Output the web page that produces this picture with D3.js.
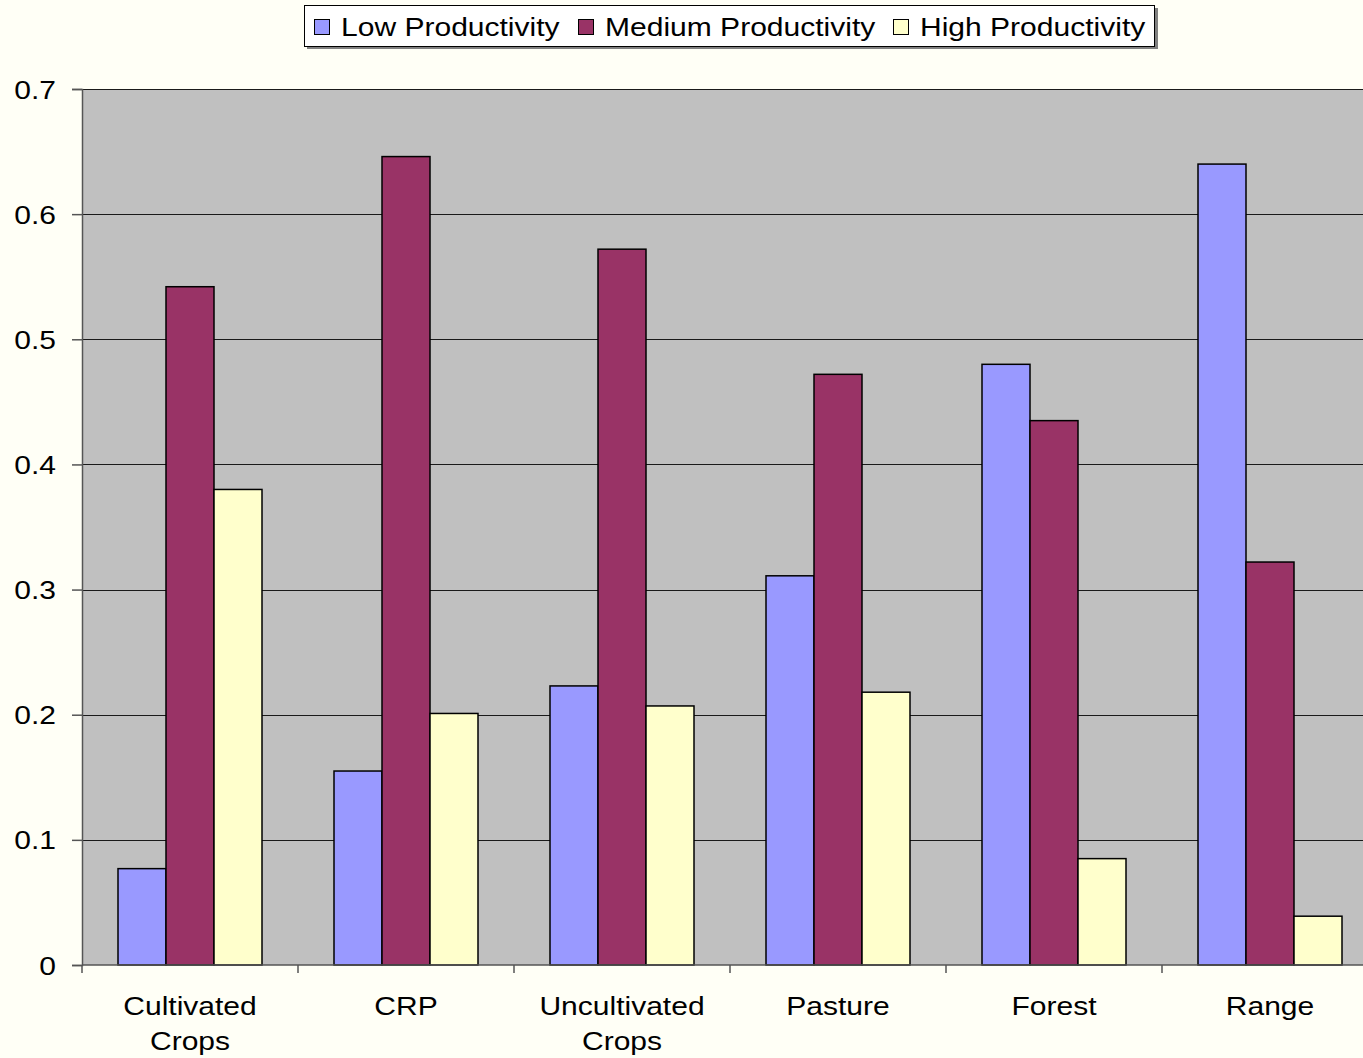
<!DOCTYPE html>
<html>
<head>
<meta charset="utf-8">
<script src="https://cdn.jsdelivr.net/npm/d3@7"></script>
<style>
	body { margin: 0; background: #fffff6; }
	svg { display: block; font-family: "Liberation Sans", Arial, sans-serif; }
</style>
</head>
<body>
<div id="chart"></div>
<script>
// chart values
const categories = ["Cultivated Crops", "CRP", "Uncultivated Crops", "Pasture", "Forest", "Range"];
const series = ["Low Productivity", "Medium Productivity", "High Productivity"];
const lowValues = [0.077, 0.155, 0.223, 0.311, 0.480, 0.640];
const mediumValues = [0.542, 0.646, 0.572, 0.472, 0.435, 0.322];
const highValues = [0.380, 0.201, 0.207, 0.218, 0.085, 0.039];
const yTicks = [0, 0.1, 0.2, 0.3, 0.4, 0.5, 0.6, 0.7];

const colors = ["#9999ff", "#993366", "#ffffcc"];
const values = [lowValues, mediumValues, highValues];

const width = 1363, height = 1058;
const margin = { top: 89, left: 82, bottom: 93 };
// the plot area runs past the right edge of the picture
const plotWidth = 216 * 6;
// the original text is stretched sideways
const stretch = 1.155;

const svg = d3.select("#chart")
	.append("svg")
	.attr("width", width)
	.attr("height", height);

const x = d3.scaleBand()
	.domain(categories)
	.range([margin.left, margin.left + plotWidth])
	.paddingInner(1 / 3)
	.paddingOuter(1 / 6);

const xSub = d3.scaleBand()
	.domain(series)
	.range([0, x.bandwidth()]);

const y = d3.scaleLinear()
	.domain([0, 0.7])
	.range([height - margin.bottom, margin.top]);

// grey plot background
svg.append("rect")
	.attr("x", margin.left)
	.attr("y", y(0.7))
	.attr("width", plotWidth)
	.attr("height", y(0) - y(0.7))
	.attr("fill", "#c0c0c0");

// horizontal gridlines
svg.append("g")
	.selectAll("line")
	.data(yTicks.slice(1))
	.join("line")
	.attr("x1", margin.left)
	.attr("x2", margin.left + plotWidth)
	.attr("y1", (d) => Math.round(y(d)) + 0.5)
	.attr("y2", (d) => Math.round(y(d)) + 0.5)
	.attr("stroke", "#1a1a1a")
	.attr("stroke-width", 1);

// bars, one group per category
const rows = categories.map((c, i) => ({
	category: c,
	bars: series.map((s, j) => ({ series: s, value: values[j][i], color: colors[j] })),
}));

svg.append("g")
	.selectAll("g")
	.data(rows)
	.join("g")
	.attr("transform", (d) => `translate(${x(d.category)},0)`)
	.selectAll("rect")
	.data((d) => d.bars)
	.join("rect")
	.attr("x", (d) => xSub(d.series))
	.attr("y", (d) => y(d.value))
	.attr("width", xSub.bandwidth())
	.attr("height", (d) => y(0) - y(d.value))
	.attr("fill", (d) => d.color)
	.attr("stroke", "#000")
	.attr("stroke-width", 1.5);

// y axis
const yAxis = svg.append("g")
	.attr("transform", `translate(${margin.left},0)`)
	.call(d3.axisLeft(y).tickValues(yTicks).tickFormat(d3.format("")).tickSize(10));
yAxis.select(".domain").attr("stroke", "#555").attr("stroke-width", 1.5);
yAxis.selectAll(".tick line").attr("stroke", "#555").attr("stroke-width", 1.5);
yAxis.selectAll(".tick text")
	.attr("font-size", 26)
	.attr("fill", "#000")
	.attr("text-anchor", "end")
	.attr("x", 0)
	.attr("dy", "0.35em")
	.attr("transform", `translate(-26,0) scale(${stretch},1)`);

// x axis: ticks between categories
const xAxis = svg.append("g").attr("transform", `translate(0,${y(0)})`);
xAxis.append("line")
	.attr("x1", margin.left)
	.attr("x2", margin.left + plotWidth)
	.attr("stroke", "#555")
	.attr("stroke-width", 1.5);
xAxis.selectAll(".sep")
	.data(d3.range(categories.length + 1))
	.join("line")
	.attr("class", "sep")
	.attr("x1", (i) => margin.left + i * 216)
	.attr("x2", (i) => margin.left + i * 216)
	.attr("y1", 0)
	.attr("y2", 8)
	.attr("stroke", "#555")
	.attr("stroke-width", 1.5);

// category labels, wrapped at the space for the long ones
xAxis.selectAll(".cat")
	.data(categories)
	.join("text")
	.attr("class", "cat")
	.attr("text-anchor", "middle")
	.attr("font-size", 26)
	.attr("fill", "#000")
	.attr("transform", (d) => `translate(${x(d) + x.bandwidth() / 2},0) scale(${stretch},1)`)
	.each(function (d) {
		const words = d.split(" ");
		const lines = words.length > 1 && d.length > 8 ? words : [d];
		d3.select(this)
			.selectAll("tspan")
			.data(lines)
			.join("tspan")
			.attr("x", 0)
			.attr("y", (w, i) => 50 + i * 35)
			.text((w) => w);
	});

// legend box with a drop shadow
const legend = svg.append("g");
legend.append("rect")
	.attr("x", 307).attr("y", 8)
	.attr("width", 851).attr("height", 41)
	.attr("fill", "#808080");
legend.append("rect")
	.attr("x", 304.5).attr("y", 5.5)
	.attr("width", 850).attr("height", 41)
	.attr("fill", "#fff")
	.attr("stroke", "#000")
	.attr("stroke-width", 1);

const legendX = [314, 578, 893];
const item = legend.selectAll(".item")
	.data(series)
	.join("g")
	.attr("class", "item")
	.attr("transform", (d, i) => `translate(${legendX[i]},27)`);
item.append("rect")
	.attr("x", 0.5).attr("y", -7.5)
	.attr("width", 15).attr("height", 15)
	.attr("fill", (d, i) => colors[i])
	.attr("stroke", "#000")
	.attr("stroke-width", 1);
item.append("text")
	.attr("transform", `translate(27,0) scale(${stretch},1)`)
	.attr("dy", "0.35em")
	.attr("font-size", 26)
	.text((d) => d);
</script>
</body>
</html>
